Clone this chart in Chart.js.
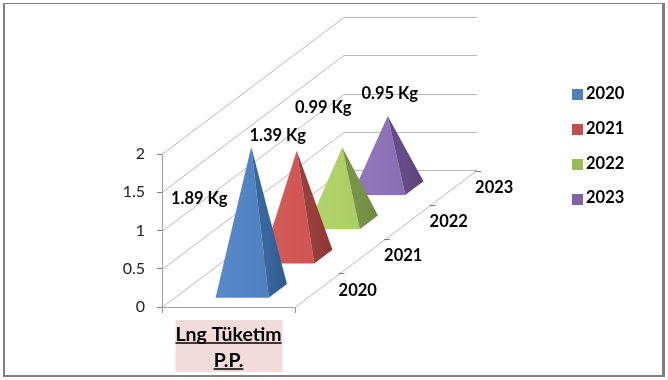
<!DOCTYPE html>
<html>
<head>
<meta charset="utf-8">
<script src="https://cdn.jsdelivr.net/npm/chart.js@4"></script>
<style>
  html, body { margin: 0; padding: 0; background: #fff; }
  #wrap { position: relative; width: 668px; height: 380px; overflow: hidden; }
  #frame { position: absolute; left: 3px; top: 3px; width: 657px; height: 371px;
           border: solid #808080; border-width: 1px 3px 2px 2px; }
  canvas { position: absolute; left: 0; top: 0; }
</style>
</head>
<body>
<div id="wrap">
  <div id="frame"></div>
  <canvas id="chart" width="668" height="380"></canvas>
</div>
<script>
// data
const categories = [['Lng Tüketim', 'P.P.']];
const years = ['2020', '2021', '2022', '2023'];
const values = [1.89, 1.39, 0.99, 0.95];
const valueLabels = ['1.89 Kg', '1.39 Kg', '0.99 Kg', '0.95 Kg'];

// colours
const legendColors = ['#4f81bd', '#c0504d', '#9bbb59', '#8064a2'];
const frontColors = [['#4f80c2', '#5889ca'], ['#cf5452', '#d65d5a'], ['#aace62', '#b3d66c'], ['#8a6eb4', '#9279bc']];
const sideColors = [['#2f5a8c', '#38679c'], ['#8c3634', '#983e3b'], ['#6d8742', '#789349'], ['#5b437c', '#654c86']];

// hand placed label offsets from each apex, as in the original
const labelOffsets = [[-52, 53], [-19, -14], [-19, -38], [2, -21]];

const boldFont = 'bold 16.5px Lato';
const categoryFont = 'bold 19.5px Lato';
const depthDX = 182, depthDY = -137;     // floor depth vector
const depthLabelShift = 40;
const pyramidDrop = 1.5;

const floor3d = {
    id: 'floor3d',
    beforeDraw(chart) {
        // pink box behind the category label (scale backdrop repaints per line)
        const { ctx, scales: { x } } = chart;
        ctx.save();
        ctx.font = categoryFont;
        const w = ctx.measureText(categories[0][0]).width;
        ctx.fillStyle = '#f2dcdb';
        ctx.fillRect(x.getPixelForTick(0) - w / 2, x.top + 13, w + 1, 52);
        ctx.restore();
    },
    beforeDatasetsDraw(chart) {
        const { ctx, scales: { x, y, depth } } = chart;
        const left = x.left, right = x.right;
        ctx.save();
        ctx.lineWidth = 1;
        ctx.strokeStyle = '#b8b8b8';
        y.ticks.forEach(t => {
            const py = Math.round(y.getPixelForValue(t.value)) + 0.5;
            ctx.beginPath();
            ctx.moveTo(left, py);
            ctx.lineTo(left + depthDX, py + depthDY);
            ctx.lineTo(right + depthDX, py + depthDY);
            ctx.stroke();
        });
        // right edge of the floor
        const by = Math.round(y.getPixelForValue(0)) + 0.5;
        ctx.beginPath();
        ctx.moveTo(right, by);
        ctx.lineTo(right + depthDX, by + depthDY);
        ctx.stroke();
        // depth ticks and labels
        ctx.strokeStyle = '#808080';
        ctx.font = boldFont;
        ctx.fillStyle = '#000';
        ctx.textAlign = 'center';
        ctx.textBaseline = 'middle';
        const slot = 1 / years.length;
        years.forEach((yr, i) => {
            const f = (depth.getPixelForValue(i) - depth.left) / depth.width;
            const endF = f + slot / 2;
            const tx = right + endF * depthDX, ty = by + endF * depthDY;
            ctx.beginPath();
            ctx.moveTo(tx - 2, Math.round(ty) + 0.5);
            ctx.lineTo(tx + 4, Math.round(ty) + 0.5);
            ctx.stroke();
            ctx.fillText(yr, right + f * depthDX + depthLabelShift, by + f * depthDY);
        });
        ctx.restore();
    },
    beforeDatasetDraw(chart, args) {
        const { ctx, scales: { depth } } = chart;
        const i = args.index;
        const bar = args.meta.data[0];
        const f = (depth.getPixelForValue(i) - depth.left) / depth.width;
        const slot = 1 / years.length;
        const ox = f * depthDX, oy = f * depthDY + pyramidDrop;
        const hw = bar.width / 2;
        // base half depth is a fifth of a slot
        const hdx = slot * 0.2 * depthDX, hdy = slot * 0.2 * depthDY;
        const fl = [bar.x - hw + ox - hdx, bar.base + oy - hdy];
        const fr = [bar.x + hw + ox - hdx, bar.base + oy - hdy];
        const br = [bar.x + hw + ox + hdx, bar.base + oy + hdy];
        const apex = [bar.x + ox, bar.y + oy];
        const tri = (a, b, c, cols) => {
            const g = ctx.createLinearGradient(a[0], 0, b[0], 0);
            g.addColorStop(0, cols[1]);
            g.addColorStop(1, cols[0]);
            ctx.fillStyle = g;
            ctx.beginPath();
            ctx.moveTo(a[0], a[1]);
            ctx.lineTo(b[0], b[1]);
            ctx.lineTo(c[0], c[1]);
            ctx.closePath();
            ctx.fill();
        };
        tri(fl, fr, apex, frontColors[i]);
        tri(fr, br, apex, sideColors[i]);
        return false;
    },
    afterDraw(chart) {
        const { ctx, scales: { x, y, depth } } = chart;
        ctx.save();
        ctx.fillStyle = '#000';
        ctx.strokeStyle = '#000';
        ctx.textBaseline = 'middle';

        // value labels
        ctx.font = boldFont;
        ctx.textAlign = 'center';
        values.forEach((v, i) => {
            const f = (depth.getPixelForValue(i) - depth.left) / depth.width;
            ctx.fillText(valueLabels[i],
                x.getPixelForTick(0) + f * depthDX + labelOffsets[i][0],
                y.getPixelForValue(v) + f * depthDY + labelOffsets[i][1]);
        });

        // legend
        years.forEach((yr, i) => {
            const ly = 94 + i * 35;
            ctx.fillStyle = legendColors[i];
            ctx.fillRect(572, ly - 5, 11, 11);
            ctx.fillStyle = '#000';
            ctx.textAlign = 'left';
            ctx.fillText(yr, 586, ly - (i === 3 ? 1 : 0));
        });

        // underline for the category label
        ctx.font = categoryFont;
        ctx.lineWidth = 1.5;
        const cx = x.getPixelForTick(0);
        categories[0].forEach((line, i) => {
            const w = ctx.measureText(line).width;
            const uy = 343 + i * 26;
            ctx.beginPath();
            ctx.moveTo(cx - w / 2, uy);
            ctx.lineTo(cx + w / 2, uy);
            ctx.stroke();
        });
        ctx.restore();
    }
};

new Chart(document.getElementById('chart'), {
    type: 'bar',
    data: {
        labels: categories,
        datasets: years.map((yr, i) => ({
            label: yr,
            data: [values[i]],
            backgroundColor: legendColors[i],
            grouped: false,
            barPercentage: 0.4,
            categoryPercentage: 1
        }))
    },
    options: {
        responsive: false,
        animation: false,
        layout: { padding: { left: 0, top: 154, right: 373, bottom: 0 } },
        plugins: {
            legend: { display: false },
            tooltip: { enabled: false }
        },
        scales: {
            x: {
                border: { color: '#a0a0a0' },
                grid: { drawOnChartArea: false, tickColor: '#909090', tickLength: 6 },
                ticks: {
                    color: '#000',
                    padding: 9,
                    maxRotation: 0,
                    font: { family: 'Lato', size: 19.5, weight: 'bold', lineHeight: 1.335 }
                },
                afterFit(s) { s.height = 73; }
            },
            depth: {
                type: 'category',
                axis: 'x',
                labels: years,
                display: false,
                offset: true
            },
            y: {
                min: 0,
                max: 2,
                border: { color: '#a0a0a0' },
                grid: { drawOnChartArea: false, tickColor: '#808080', tickLength: 5 },
                ticks: {
                    stepSize: 0.5,
                    color: '#222',
                    padding: 12,
                    font: { family: 'Lato', size: 16 },
                    callback: v => String(v)
                },
                afterFit(s) { s.width = 162; }
            }
        }
    },
    plugins: [floor3d]
});
</script>
</body>
</html>
